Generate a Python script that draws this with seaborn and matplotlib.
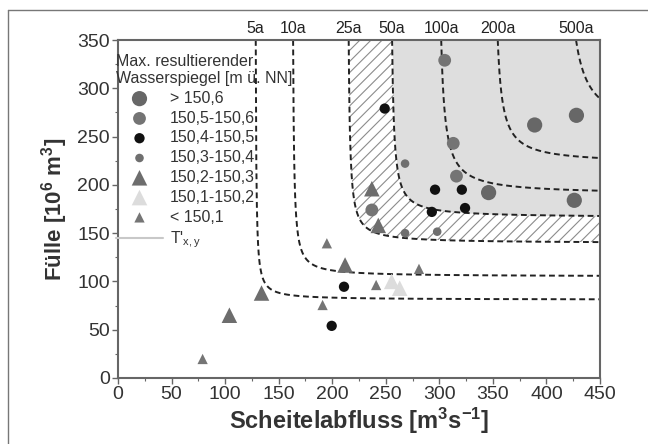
import numpy as np
import pandas as pd
import matplotlib
matplotlib.use("Agg")
import matplotlib.pyplot as plt
from matplotlib.lines import Line2D
import seaborn as sns

# ---------------- data ----------------
# Return-period curves  y = b + c / (x - a)
period_labels = ["5a", "10a", "25a", "50a", "100a", "200a", "500a"]
curve_a = [128, 162.5, 214, 254, 298, 350, 415]
curve_b = [81, 105, 139.5, 166, 190, 222, 255]
curve_c = [160, 240, 290, 350, 600, 580, 1200]

cat_labels = ["> 150,6", "150,5-150,6", "150,4-150,5", "150,3-150,4",
              "150,2-150,3", "150,1-150,2", "< 150,1"]

x_gt1506 = [389, 428, 346, 426]
y_gt1506 = [262, 272, 192, 184]
x_1505 = [305, 313, 316, 237]
y_1505 = [329, 243, 209, 174]
x_1504 = [249, 296, 321, 293, 324, 211, 199.5]
y_1504 = [279, 195, 195, 172, 176, 94.5, 54]
x_1503 = [268, 268, 298]
y_1503 = [222, 150, 151.5]
x_1502 = [237, 243, 212, 134, 104]
y_1502 = [196, 158, 117, 88, 65]
x_1501 = [255.5, 263]
y_1501 = [100, 93]
x_lt1501 = [195, 191, 79, 241, 281]
y_lt1501 = [139.5, 75.6, 19.7, 96.3, 113]

x_ticks = [0, 50, 100, 150, 200, 250, 300, 350, 400, 450]
y_ticks = [0, 50, 100, 150, 200, 250, 300, 350]

# ---------------- style ----------------
sns.set_style("ticks")
plt.rcParams["font.family"] = ["Liberation Sans", "DejaVu Sans"]
plt.rcParams["mathtext.fontset"] = "custom"
plt.rcParams["mathtext.rm"] = "Liberation Sans"
plt.rcParams["mathtext.it"] = "Liberation Sans:italic"
plt.rcParams["mathtext.bf"] = "Liberation Sans:bold"
plt.rcParams["hatch.linewidth"] = 0.8
plt.rcParams["hatch.color"] = "#8c8c8c"

fig = plt.figure(figsize=(6.48, 4.44), dpi=100)
ax = fig.add_axes([118 / 648, 1 - 378 / 444, 482 / 648, 338 / 444])

XMAX, YMAX = 450, 350

def curve(a, b, c):
    x0 = a + c / (YMAX - b)
    x = np.linspace(x0, XMAX, 600)
    return x, b + c / (x - a)

# hatched band (25a..50a) and grey area (>50a)
x25, y25 = curve(curve_a[2], curve_b[2], curve_c[2])
ax.fill_between(x25, y25, YMAX, facecolor="white", edgecolor="#8c8c8c",
                hatch="///", linewidth=0, zorder=0.5)
x50, y50 = curve(curve_a[3], curve_b[3], curve_c[3])
ax.fill_between(x50, y50, YMAX, color="#dedede", linewidth=0, zorder=0.6)

for lab, a, b, c in zip(period_labels, curve_a, curve_b, curve_c):
    x, y = curve(a, b, c)
    sns.lineplot(x=x, y=y, ax=ax, color="#222222", lw=1.4, sort=False,
                 dashes=False, zorder=2, estimator=None)
    ax.lines[-1].set_linestyle((0, (3, 1.9)))
    ax.annotate(lab, xy=(x[0], YMAX), xytext=(0, 3), textcoords="offset points",
                ha="center", va="bottom", fontsize=11.5, color="#222222",
                annotation_clip=False)

groups = [
    (x_gt1506, y_gt1506, "o", "#676767", 120),
    (x_1505, y_1505, "o", "#747474", 85),
    (x_1504, y_1504, "o", "#111111", 55),
    (x_1503, y_1503, "o", "#6f6f6f", 38),
    (x_1502, y_1502, "^", "#6d6d6d", 125),
    (x_1501, y_1501, "^", "#dcdcdc", 125),
    (x_lt1501, y_lt1501, "^", "#757575", 55),
]
for (xs, ys, m, col, s), lab in zip(groups, cat_labels):
    df = pd.DataFrame({"Q": xs, "V": ys})
    sns.scatterplot(data=df, x="Q", y="V", ax=ax, marker=m, color=col, s=s,
                    linewidth=0, edgecolor="none", label=lab, zorder=3)

ax.set_xlim(0, XMAX)
ax.set_ylim(0, YMAX)
ax.set_xticks(x_ticks)
ax.set_yticks(y_ticks)
ax.set_xticks(np.arange(25, 450, 50), minor=True)
ax.set_yticks(np.arange(25, 350, 50), minor=True)
ax.tick_params(which="major", direction="out", length=4, width=1,
               color="#666666", labelsize=14, labelcolor="#333333", pad=2)
ax.tick_params(which="minor", direction="out", length=2.5, width=0.8,
               color="#666666")
for sp in ax.spines.values():
    sp.set_visible(True)
    sp.set_color("#666666")
    sp.set_linewidth(1.5)

ax.set_xlabel(r"Scheitelabfluss [m$^{\mathbf{3}}$s$^{\mathbf{-1}}$]",
              fontsize=17, fontweight="bold", color="#333333", labelpad=2)
ax.set_ylabel(r"Fülle [10$^{\mathbf{6}}$ m$^{\mathbf{3}}$]",
              fontsize=16, fontweight="bold", color="#333333", labelpad=5)

handles, labels = ax.get_legend_handles_labels()
handles.append(Line2D([], [], color="#c8c8c8", lw=1.5))
labels.append(r"T$'_{\mathrm{x,y}}$")
leg = ax.legend(handles, labels,
                title="Max. resultierender\nWasserspiegel [m ü. NN]",
                loc="upper left", bbox_to_anchor=(-0.025, 0.988), frameon=False,
                fontsize=11.5, title_fontsize=11.5, handlelength=3.0,
                handletextpad=0.4, labelspacing=0.3, borderaxespad=0.2,
                alignment="left")
for t in leg.get_texts():
    t.set_color("#333333")
leg.get_title().set_color("#333333")

# figure frame (left and top edges)
fig.add_artist(Line2D([7.5 / 648, 7.5 / 648], [0, 1 - 10 / 444],
                      transform=fig.transFigure, color="#777777", lw=1))
fig.add_artist(Line2D([7.5 / 648, 1], [1 - 10 / 444, 1 - 10 / 444],
                      transform=fig.transFigure, color="#777777", lw=1))

fig.savefig("out.png", dpi=100)
